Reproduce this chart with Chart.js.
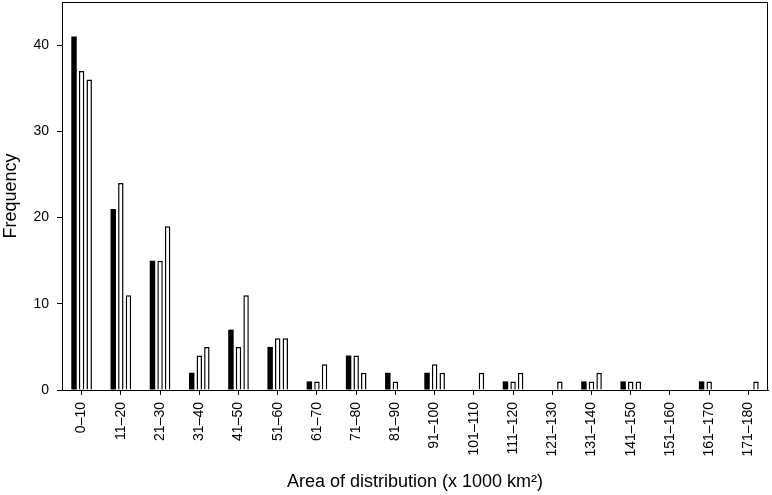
<!DOCTYPE html>
<html>
<head>
<meta charset="utf-8">
<script src="https://cdn.jsdelivr.net/npm/chart.js@4.4.0/dist/chart.umd.min.js"></script>
<style>
  body { margin: 0; background: #fff; }
  #wrap { width: 772px; height: 495px; }
</style>
</head>
<body>
<div id="wrap"><canvas id="freqChart"></canvas></div>
<script>
// bins of distribution area
const categories = ['0–10', '11–20', '21–30', '31–40', '41–50', '51–60', '61–70', '71–80', '81–90',
  '91–100', '101–110', '111–120', '121–130', '131–140', '141–150', '151–160', '161–170', '171–180'];

const seriesBlack = [41, 21, 15, 2, 7, 5, 1, 4, 2, 2, 0, 1, 0, 1, 1, 0, 1, 0];
const seriesWhiteA = [37, 24, 15, 4, 5, 6, 1, 4, 1, 3, 0, 1, 0, 1, 1, 0, 1, 0];
const seriesWhiteB = [36, 11, 19, 5, 11, 6, 3, 2, 0, 2, 2, 2, 1, 2, 1, 0, 0, 1];

const yTicks = [0, 10, 20, 30, 40];

// box around the plot area
const frame = {
  id: 'frame',
  afterDraw(chart) {
    const a = chart.chartArea;
    const c = chart.ctx;
    c.save();
    c.strokeStyle = '#000';
    c.lineWidth = 1;
    c.strokeRect(a.left + 0.5, a.top + 0.5, a.right - a.left - 1, a.bottom - a.top);
    c.restore();
  }
};

const ctx = document.getElementById('freqChart').getContext('2d');
Chart.defaults.font.family = '"Liberation Sans", Arial, sans-serif';
Chart.defaults.color = '#000';

const barStyle = { borderColor: '#000', borderWidth: 1.5, categoryPercentage: 0.58, barPercentage: 0.72 };

new Chart(ctx, {
  type: 'bar',
  data: {
    labels: categories,
    datasets: [
      Object.assign({ label: 'A', data: seriesBlack, backgroundColor: '#000' }, barStyle, { borderWidth: 0 }),
      Object.assign({ label: 'B', data: seriesWhiteA, backgroundColor: '#fff' }, barStyle),
      Object.assign({ label: 'C', data: seriesWhiteB, backgroundColor: '#fff' }, barStyle),
    ],
  },
  options: {
    responsive: true,
    maintainAspectRatio: false,
    animation: false,
    layout: { padding: { top: 2, right: 4, left: 0, bottom: 0 } },
    plugins: {
      legend: { display: false },
      tooltip: { enabled: false },
    },
    scales: {
      x: {
        grid: { display: true, offset: false, drawOnChartArea: false, drawTicks: true, tickLength: 5, color: '#000' },
        border: { color: '#000', width: 1 },
        ticks: { minRotation: 90, maxRotation: 90, padding: 7, font: { size: 14 } },
        title: { display: true, text: 'Area of distribution (x 1000 km²)', font: { size: 18 }, padding: { top: 4, bottom: 2 } },
        afterFit(axis) {
          axis.height = 105;
          axis.paddingLeft = 0;
          axis.paddingRight = 0;
        },
      },
      y: {
        min: 0,
        max: 45,
        afterBuildTicks(axis) {
          axis.ticks = yTicks.map(v => ({ value: v }));
        },
        grid: { display: true, drawOnChartArea: false, drawTicks: true, tickLength: 5, color: '#000' },
        border: { color: '#000', width: 1 },
        ticks: { padding: 8, font: { size: 14 } },
        title: { display: true, text: 'Frequency', font: { size: 18 }, padding: { top: 0, bottom: 4 } },
        afterFit(axis) {
          axis.width = 62;
          axis.paddingTop = 0;
          axis.paddingBottom = 0;
        },
      },
    },
  },
  plugins: [frame],
});
</script>
</body>
</html>
